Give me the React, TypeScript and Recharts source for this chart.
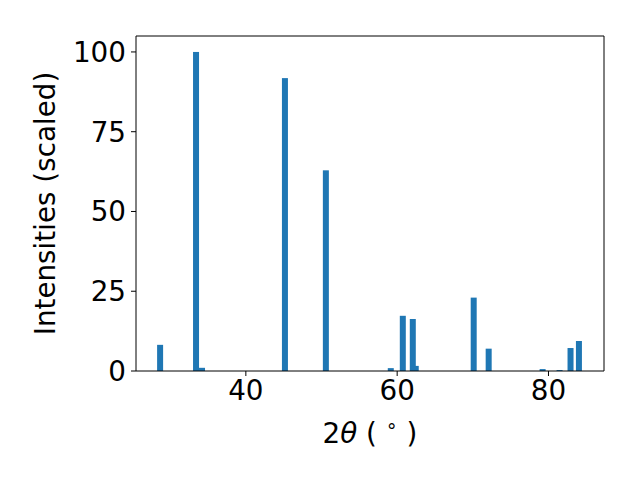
import React from 'react';
import { BarChart, Bar, XAxis, YAxis, ReferenceLine, Label } from 'recharts';

// peak positions (2theta, degrees) and scaled intensities
const twoTheta = [28.69, 33.44, 34.23, 45.19, 50.6, 59.18, 60.77, 62.09, 62.48, 70.14, 72.12, 79.25, 81.49, 82.94, 84.05];
const intensities = [8.2, 100, 1.0, 91.8, 62.9, 0.9, 17.3, 16.3, 1.6, 23.0, 7.0, 0.6, 0.3, 7.2, 9.4];
const xTicks = [40, 60, 80];
const yTicks = [0, 25, 50, 75, 100];

const data = twoTheta.map((x, i) => ({ x, y: intensities[i] }));

const font = 'DejaVu Sans';
const fs = 27.8;
const xMin = 25.48;
const xMax = 87.34;
const barW = 6; // 0.8 degree wide in matplotlib

// recharts squeezes bars on a number axis when peaks are close, so keep the width fixed
const PeakBar = (props: any) => {
  const { x, y, width, height, fill } = props;
  if (!height || height <= 0) return null;
  const cx = x + width / 2;
  return <rect x={cx - barW / 2} y={y} width={barW} height={height} fill={fill} />;
};

const XLabel = () => (
  <text x={370} y={443} textAnchor="middle" fontFamily={font} fontSize={fs} fill="#000">
    <tspan>2</tspan>
    <tspan fontStyle="italic">θ</tspan>
    <tspan> ( </tspan>
    <tspan dy={-11} fontSize={19}>∘</tspan>
    <tspan dy={11}> )</tspan>
  </text>
);

export default function App() {
  return (
    <div style={{ position: 'absolute', left: 0, top: 0, width: 640, height: 480, background: '#fff' }}>
      <BarChart
        width={640}
        height={480}
        data={data}
        margin={{ top: 36, right: 36, left: 0, bottom: 0 }}
      >
        <XAxis
          dataKey="x"
          type="number"
          domain={[xMin, xMax]}
          allowDataOverflow
          ticks={xTicks}
          height={109}
          tickSize={5}
          tickMargin={4}
          stroke="#000"
          fontSize={fs}
          fontFamily={font}
          tick={{ fill: '#000', fontSize: fs, fontFamily: font }}
        />
        <YAxis
          type="number"
          domain={[0, 105]}
          ticks={yTicks}
          width={136}
          tickSize={5}
          tickMargin={5}
          stroke="#000"
          fontSize={fs}
          fontFamily={font}
          tick={{ fill: '#000', fontSize: fs, fontFamily: font }}
        >
          <Label
            value="Intensities (scaled)"
            angle={-90}
            position="insideLeft"
            offset={0}
            dx={45}
            style={{ textAnchor: 'middle', fontSize: fs, fontFamily: font, fill: '#000' }}
          />
        </YAxis>
        <ReferenceLine y={105} stroke="#000" />
        <ReferenceLine x={xMax} stroke="#000" />
        <Bar dataKey="y" fill="#1f77b4" isAnimationActive={false} shape={PeakBar} />
        <XLabel />
      </BarChart>
    </div>
  );
}
